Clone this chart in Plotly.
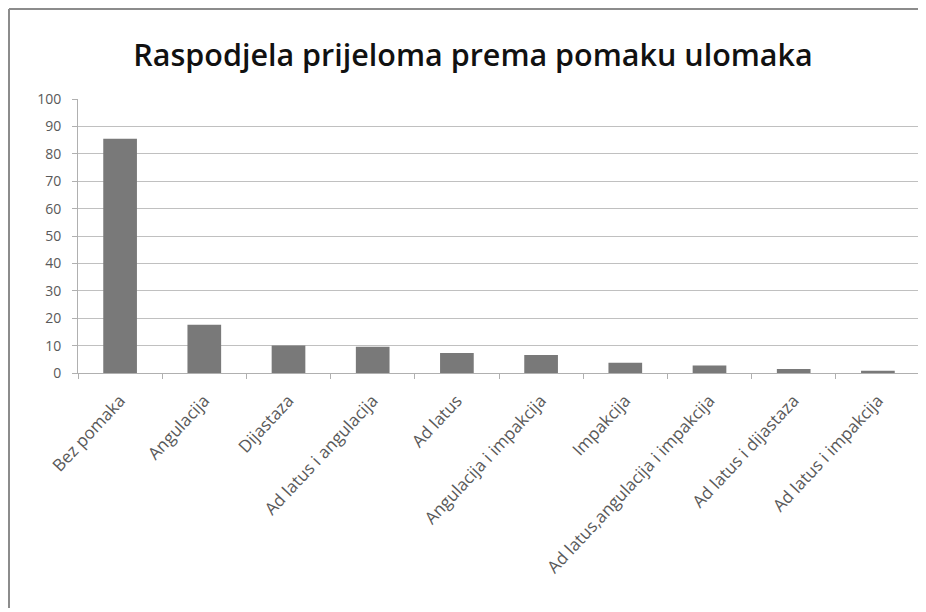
import plotly.graph_objects as go

categories = ["Bez pomaka", "Angulacija", "Dijastaza", "Ad latus i angulacija", "Ad latus",
              "Angulacija i impakcija", "Impakcija", "Ad latus,angulacija i impakcija",
              "Ad latus i dijastaza", "Ad latus i impakcija"]
values = [85.5, 17.6, 10.0, 9.6, 7.3, 6.6, 3.7, 2.7, 1.5, 0.8]
y_ticks = list(range(0, 101, 10))

OFF = 8  # page body offset
W, H = 916, 600
L, R, T = 78 - OFF, OFF + W - 920, 99 - OFF
B = OFF + H - 373
pw, ph = W - L - R, H - T - B

def px(x):
    return (x - OFF - L) / pw

def py(y):
    return (H - B - (y - OFF)) / ph

border = dict(color="#8c8c8c", width=2)

fig = go.Figure(go.Bar(x=categories, y=values, marker=dict(color="#797979", line=dict(width=0))))

fig.update_layout(
    width=W, height=H,
    margin=dict(l=L, r=R, t=T, b=B),
    plot_bgcolor="white", paper_bgcolor="white",
    bargap=0.6,
    showlegend=False,
    title=dict(text="Raspodjela prijeloma prema pomaku ulomaka",
               x=(473 - OFF) / W, xref="container", xanchor="center",
               y=1 - (55 - OFF) / H, yref="container", yanchor="middle",
               font=dict(family="Open Sans, sans-serif", size=30.5, weight=600, color="#111111")),
    font=dict(family="Open Sans, sans-serif", color="#595959", size=15),
    shapes=[
        dict(type="line", xref="paper", yref="paper", x0=px(9), x1=px(960), y0=py(9), y1=py(9),
             line=border, layer="below"),
        dict(type="line", xref="paper", yref="paper", x0=px(9), x1=px(9), y0=py(9), y1=py(660),
             line=border, layer="below"),
    ],
)

fig.update_yaxes(range=[0, 100], tickvals=y_ticks, showgrid=True, gridcolor="#c0c0c0", gridwidth=1,
                 showline=True, linecolor="#b0b0b0", linewidth=1, ticks="outside", ticklen=5,
                 tickcolor="#b0b0b0", zeroline=False, tickfont=dict(size=14, color="#595959"),
                 ticklabelstandoff=8)
fig.update_xaxes(tickangle=-47, showline=True, linecolor="#b0b0b0", linewidth=1,
                 ticks="outside", ticklen=5, tickcolor="#b0b0b0", tickson="boundaries",
                 tickfont=dict(size=17, color="#595959"), showgrid=False, ticklabelstandoff=10)

fig.write_html("out.html")
